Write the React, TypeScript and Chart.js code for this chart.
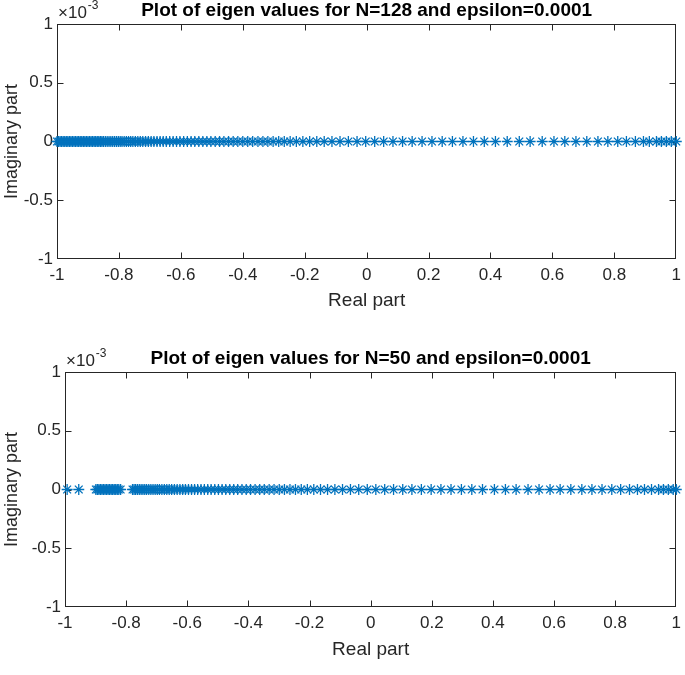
import React, { useEffect, useRef } from "react";
import { Chart, registerables } from "chart.js";

Chart.register(...registerables);

// ---------- data ----------
const TOP_TITLE = "Plot of eigen values for N=128 and epsilon=0.0001";
const BOTTOM_TITLE = "Plot of eigen values for N=50 and epsilon=0.0001";
const X_LABEL = "Real part";
const Y_LABEL = "Imaginary part";
const Y_EXPONENT = "-3";

const X_TICKS = [-1, -0.8, -0.6, -0.4, -0.2, 0, 0.2, 0.4, 0.6, 0.8, 1];
const Y_TICKS = [-1, -0.5, 0, 0.5, 1];

// Imaginary parts are all zero (values in units of 1e-3)
const IMAG_PART = 0;

const TOP_REAL = [
  -1.0, -0.995, -0.99, -0.985, -0.98, -0.975, -0.97, -0.965, -0.96, -0.955,
  -0.95, -0.945, -0.94, -0.935, -0.93, -0.925, -0.92, -0.915, -0.91, -0.905,
  -0.9, -0.895, -0.89, -0.885, -0.88, -0.875, -0.87, -0.865, -0.86, -0.855,
  -0.85, -0.844, -0.838, -0.832, -0.826, -0.82, -0.814, -0.808,
  -0.802, -0.796, -0.79, -0.783, -0.776, -0.769, -0.762, -0.755, -0.747, -0.739,
  -0.731, -0.723, -0.714, -0.705, -0.696, -0.687, -0.677, -0.667, -0.657, -0.647,
  -0.636, -0.625, -0.614,
  -0.603, -0.591, -0.579, -0.567, -0.555, -0.542, -0.529, -0.516, -0.503, -0.489,
  -0.475, -0.461, -0.446, -0.431, -0.416, -0.4, -0.384, -0.368,
  -0.351, -0.335, -0.319, -0.302, -0.284, -0.266, -0.247, -0.227, -0.206, -0.184,
  -0.161, -0.137, -0.112, -0.086, -0.059, -0.031,
  -0.003, 0.026, 0.055, 0.085, 0.116, 0.147, 0.179, 0.211, 0.244, 0.277, 0.311, 0.345,
  0.38, 0.416, 0.454, 0.493, 0.528, 0.567, 0.605, 0.64, 0.676, 0.711, 0.747, 0.779,
  0.811, 0.839, 0.868, 0.894, 0.913, 0.936, 0.952, 0.968, 0.984, 1.0,
];

const BOTTOM_REAL = [
  -0.993, -0.955,
  -0.899, -0.894, -0.889, -0.884, -0.879, -0.874, -0.869, -0.864, -0.859, -0.854,
  -0.849, -0.844, -0.839, -0.834, -0.829, -0.824, -0.818,
  -0.779, -0.774, -0.769, -0.763, -0.757, -0.751, -0.745, -0.739, -0.733, -0.726,
  -0.719, -0.712, -0.705, -0.698, -0.691, -0.683, -0.675, -0.667, -0.659, -0.651,
  -0.642, -0.633, -0.624, -0.615, -0.606, -0.596, -0.586, -0.576, -0.566, -0.555,
  -0.544, -0.533, -0.522, -0.51, -0.498, -0.486, -0.474, -0.461, -0.448, -0.435,
  -0.421, -0.407, -0.393, -0.378, -0.363, -0.348, -0.332, -0.316, -0.299, -0.282,
  -0.264, -0.246, -0.227, -0.207, -0.186, -0.164, -0.141, -0.117, -0.092, -0.066,
  -0.039, -0.011, 0.017, 0.046, 0.075, 0.105, 0.135, 0.166, 0.198, 0.23, 0.263,
  0.297, 0.331,
  0.366, 0.405, 0.441, 0.476, 0.515, 0.551, 0.587, 0.62, 0.655, 0.691, 0.724,
  0.757, 0.789, 0.818, 0.847, 0.873, 0.896, 0.919, 0.942, 0.958, 0.974, 0.99, 1.0,
];

// ---------- styling ----------
const FONT = '"Liberation Sans", Arial, Helvetica, sans-serif';
const AXIS_COLOR = "#262626";
const MARKER_COLOR = "rgb(0,114,189)";

const fmt = (v: number) => String(Math.round(v * 10) / 10 + 0);

const matlabAxes = {
  id: "matlabAxes",
  beforeDatasetsDraw(chart: any) {
    const { ctx, chartArea: a, scales } = chart;
    const L = Math.round(a.left) + 0.5;
    const R = Math.round(a.right) - 0.5;
    const T = Math.round(a.top) + 0.5;
    const B = Math.round(a.bottom) - 0.5;
    const tl = 6;
    ctx.save();
    ctx.strokeStyle = AXIS_COLOR;
    ctx.lineWidth = 1;
    ctx.strokeRect(L, T, R - L, B - T);
    ctx.beginPath();
    for (const t of scales.x.ticks) {
      const px = Math.round(scales.x.getPixelForValue(t.value)) + 0.5;
      const x = Math.min(Math.max(px, L), R);
      ctx.moveTo(x, B);
      ctx.lineTo(x, B - tl);
      ctx.moveTo(x, T);
      ctx.lineTo(x, T + tl);
    }
    for (const t of scales.y.ticks) {
      const py = Math.round(scales.y.getPixelForValue(t.value)) + 0.5;
      const y = Math.min(Math.max(py, T), B);
      ctx.moveTo(L, y);
      ctx.lineTo(L + tl, y);
      ctx.moveTo(R, y);
      ctx.lineTo(R - tl, y);
    }
    ctx.stroke();
    ctx.restore();
  },
  afterDraw(chart: any, _args: any, opts: any) {
    const { ctx, chartArea: a } = chart;
    ctx.save();
    ctx.fillStyle = "#000";
    ctx.font = `bold 19px ${FONT}`;
    ctx.textAlign = "center";
    ctx.textBaseline = "middle";
    ctx.fillText(opts.title, (a.left + a.right) / 2, a.top - 13);
    ctx.fillStyle = AXIS_COLOR;
    ctx.textAlign = "left";
    ctx.font = `17px ${FONT}`;
    const base = "\u00d710";
    const x0 = a.left + 1;
    ctx.fillText(base, x0, a.top - 11);
    const w = ctx.measureText(base).width;
    ctx.font = `12px ${FONT}`;
    ctx.fillText(opts.exponent, x0 + w + 1, a.top - 18);
    ctx.restore();
  },
};

type PanelProps = {
  title: string;
  real: number[];
  height: number;
  yWidth: number;
  xHeight: number;
  padTop: number;
  padBottom: number;
};

function Panel({ title, real, height, yWidth, xHeight, padTop, padBottom }: PanelProps) {
  const ref = useRef<HTMLCanvasElement | null>(null);
  useEffect(() => {
    if (!ref.current) return;
    const chart = new Chart(ref.current, {
      type: "scatter",
      data: {
        datasets: [
          {
            data: real.map((x) => ({ x, y: IMAG_PART })),
            pointStyle: "star",
            pointRadius: 5.5,
            pointHoverRadius: 5.5,
            pointBorderWidth: 1.3,
            borderColor: MARKER_COLOR,
            backgroundColor: MARKER_COLOR,
            showLine: false,
            clip: false as any,
          },
        ],
      },
      options: {
        animation: false,
        responsive: false,
        events: [],
        layout: { padding: { left: 0, right: 5, top: padTop, bottom: padBottom } },
        plugins: {
          legend: { display: false },
          tooltip: { enabled: false },
          title: { display: false },
          matlabAxes: { title, exponent: Y_EXPONENT },
        } as any,
        scales: {
          x: {
            type: "linear",
            min: -1,
            max: 1,
            grid: { display: false, drawTicks: false },
            border: { display: false },
            afterBuildTicks: (s: any) => {
              s.ticks = X_TICKS.map((value) => ({ value }));
            },
            afterFit: (s: any) => {
              s.height = xHeight;
            },
            ticks: {
              padding: 4,
              color: AXIS_COLOR,
              font: { size: 17, family: FONT, lineHeight: 1.44 },
              maxRotation: 0,
              autoSkip: false,
              callback: (v: any) => fmt(Number(v)),
            },
            title: {
              display: true,
              text: X_LABEL,
              color: AXIS_COLOR,
              font: { size: 19, family: FONT },
              padding: { top: 0, bottom: 1 },
            },
          },
          y: {
            type: "linear",
            min: -1,
            max: 1,
            grid: { display: false, drawTicks: false },
            border: { display: false },
            afterBuildTicks: (s: any) => {
              s.ticks = Y_TICKS.map((value) => ({ value }));
            },
            afterFit: (s: any) => {
              s.width = yWidth;
            },
            ticks: {
              padding: 4,
              color: AXIS_COLOR,
              font: { size: 17, family: FONT },
              autoSkip: false,
              callback: (v: any) => fmt(Number(v)),
            },
            title: {
              display: true,
              text: Y_LABEL,
              color: AXIS_COLOR,
              font: { size: 18, family: FONT },
              padding: { top: 1, bottom: 0 },
            },
          },
        },
      },
      plugins: [matlabAxes as any],
    });
    return () => chart.destroy();
  }, [title, real, height, yWidth, xHeight, padTop, padBottom]);
  return <canvas ref={ref} width={685} height={height} style={{ display: "block" }} />;
}

export default function App() {
  return (
    <div
      style={{
        position: "fixed",
        left: 0,
        top: 0,
        width: 685,
        height: 675,
        background: "#fff",
      }}
    >
      <Panel title={TOP_TITLE} real={TOP_REAL} height={337} yWidth={57} xHeight={54} padTop={24} padBottom={24} />
      <Panel title={BOTTOM_TITLE} real={BOTTOM_REAL} height={338} yWidth={65} xHeight={55} padTop={35} padBottom={13} />
    </div>
  );
}
